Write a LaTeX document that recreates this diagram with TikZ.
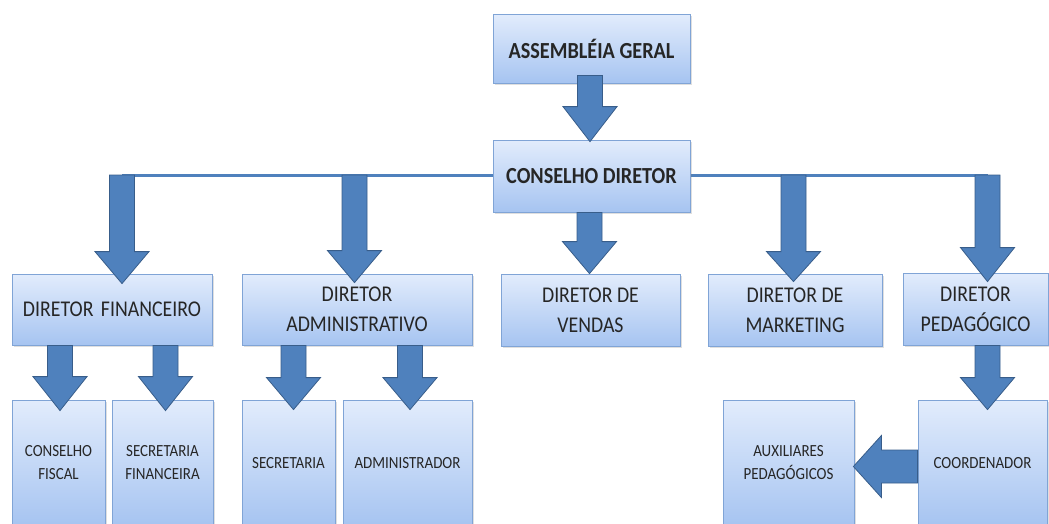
\documentclass[tikz,border=0pt]{standalone}
\usepackage{fontspec}
\setmainfont{Carlito}[FakeStretch=0.88]
\usetikzlibrary{shadows,calc}
\definecolor{boxtop}{RGB}{226,236,252}
\definecolor{boxbot}{RGB}{166,196,241}
\definecolor{boxline}{RGB}{128,164,214}
\definecolor{arrfill}{RGB}{79,129,189}
\definecolor{arrline}{RGB}{56,93,138}
\definecolor{txt}{RGB}{38,38,38}
\tikzset{
 box/.style={draw=boxline, line width=0.8pt, top color=boxtop, bottom color=boxbot,
   inner sep=0pt, align=center, text=txt,
   drop shadow={opacity=0.25, shadow xshift=1.5pt, shadow yshift=-2pt}},
 lvlone/.style={box, font=\fontsize{23}{27}\selectfont\bfseries},
 lvltwo/.style={box, font=\fontsize{22.5}{30}\selectfont},
 lvlthree/.style={box, font=\fontsize{17}{23}\selectfont},
 blk/.style={fill=arrfill, draw=arrline, line width=0.8pt, line join=miter},
 link/.style={draw=arrfill, line width=3pt},
}
% #1 x, #2 start point, #3 end point, #4 overshoot, #5 head length
\newcommand\blockdown[5]{%
 \path[blk] let \p0=(#1,0), \p1=(#2), \p2=(#3) in
  (\x0-12.5pt,\y1) -- (\x0+12.5pt,\y1) -- (\x0+12.5pt,\y2-#4+#5) -- (\x0+27pt,\y2-#4+#5)
  -- (\x0,\y2-#4) -- (\x0-27pt,\y2-#4+#5) -- (\x0-12.5pt,\y2-#4+#5) -- cycle;}
% #1 y, #2 start point, #3 end point
\newcommand\blockleft[3]{%
 \path[blk] let \p0=(0,#1), \p1=(#2), \p2=(#3) in
  (\x1,\y0+16.5pt) -- (\x1,\y0-16.5pt) -- (\x2+27pt,\y0-16.5pt) -- (\x2+27pt,\y0-31pt)
  -- (\x2-1pt,\y0) -- (\x2+27pt,\y0+31pt) -- (\x2+27pt,\y0+16.5pt) -- cycle;}
\begin{document}
\begin{tikzpicture}[x=1pt,y=-1pt]
\useasboundingbox (0,0) rectangle (1049,523);
\clip (0,0) rectangle (1049,523);
\coordinate (h1) at (122,175);
\coordinate (h2) at (354.5,175);
\coordinate (h4) at (793.5,175);
\coordinate (h5) at (987.5,175);
\draw[link] (h1) -- (h5);
\node[lvlone, minimum width=197pt, minimum height=69pt] (ag) at (591.5,48.5) {ASSEMBLÉIA GERAL};
\node[lvlone, minimum width=197pt, minimum height=72pt] (cd) at (591.5,176) {CONSELHO DIRETOR};
\node[lvltwo, minimum width=200pt, minimum height=71pt] (df) at (112,309.5) {DIRETOR\,\,FINANCEIRO};
\node[lvltwo, minimum width=230pt, minimum height=71pt] (da) at (357,309.5) {DIRETOR\\ADMINISTRATIVO};
\node[lvltwo, minimum width=179pt, minimum height=72pt] (dv) at (590.5,310) {DIRETOR DE\\VENDAS};
\node[lvltwo, minimum width=174pt, minimum height=72pt] (dm) at (795,310) {DIRETOR DE\\MARKETING};
\node[lvltwo, minimum width=145pt, minimum height=72pt] (dp) at (975.5,309) {DIRETOR\\PEDAGÓGICO};
\node[lvlthree, minimum width=93pt, minimum height=126pt] (cf) at (58.5,463) {CONSELHO\\FISCAL};
\node[lvlthree, minimum width=101pt, minimum height=126pt] (sf) at (162.5,463) {SECRETARIA\\FINANCEIRA};
\node[lvlthree, minimum width=93pt, minimum height=126pt] (sec) at (288.5,463) {SECRETARIA};
\node[lvlthree, minimum width=129pt, minimum height=126pt] (adm) at (407.5,463) {ADMINISTRADOR};
\node[lvlthree, minimum width=131pt, minimum height=126pt] (aux) at (788.5,463) {AUXILIARES\\PEDAGÓGICOS};
\node[lvlthree, minimum width=129pt, minimum height=126pt] (coo) at (982.5,463) {COORDENADOR};
% arrows
\blockdown{590}{$(ag.south)+(0,-8)$}{cd.north}{2pt}{35pt}
\blockdown{122}{h1}{df.north}{10pt}{32pt}
\blockdown{354.5}{h2}{da.north}{9pt}{32pt}
\blockdown{589.5}{cd.south}{dv.north}{0pt}{32pt}
\blockdown{793.5}{h4}{dm.north}{8pt}{30pt}
\blockdown{987.5}{h5}{dp.north}{9pt}{34pt}
\blockdown{60}{df.south}{cf.north}{11pt}{34pt}
\blockdown{165.5}{df.south}{sf.north}{11pt}{34pt}
\blockdown{293.5}{da.south}{sec.north}{10pt}{32pt}
\blockdown{410}{da.south}{adm.north}{10pt}{32pt}
\blockdown{987.5}{dp.south}{coo.north}{10pt}{32pt}
\blockleft{466.5}{coo.west}{aux.east}
\end{tikzpicture}
\end{document}
